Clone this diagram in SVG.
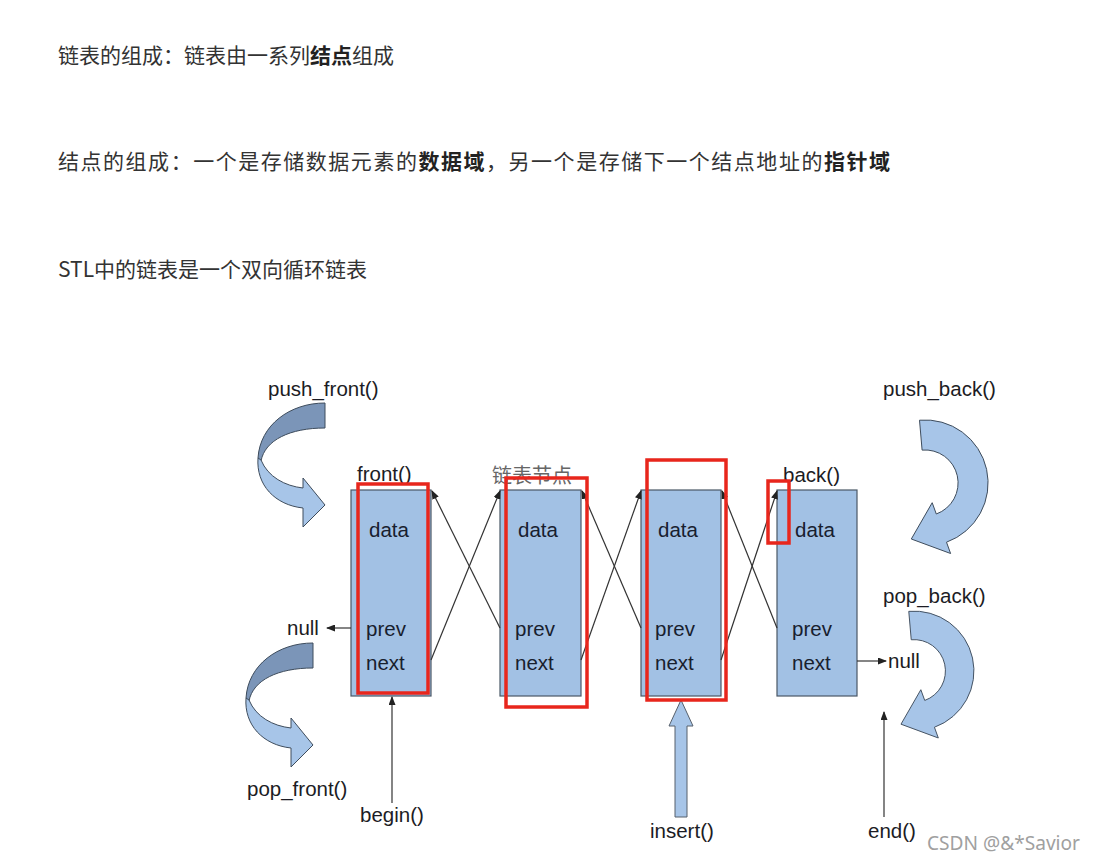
<svg xmlns="http://www.w3.org/2000/svg" width="1095" height="861" viewBox="0 0 1095 861">
<style>
.para{font-family:"Noto Sans CJK SC","Noto Sans",sans-serif;font-size:21px;fill:#333}
.b{font-weight:bold;fill:#222}
.lbl{font-family:"Liberation Sans",Arial,sans-serif;font-size:20.5px;fill:#1c1c24}
.fld{font-family:"Liberation Sans",Arial,sans-serif;font-size:20.5px;fill:#18202e}
.box{fill:#a2c1e4;stroke:#4a5866;stroke-width:1.2}
.red{fill:none;stroke:#e8261c;stroke-width:3.5}
.conn{stroke:#333;stroke-width:1.2;fill:none}
.dark{fill:#7b95b8;stroke:#3e4c5c;stroke-width:1}
.light{fill:#a7c5e8;stroke:#3e4c5c;stroke-width:1}
.wm{font-family:"Noto Sans","Noto Sans CJK SC",sans-serif;font-size:19px;fill:#a0a0a0}
</style>
<defs>
<marker id="ah" markerUnits="userSpaceOnUse" markerWidth="9" markerHeight="7" refX="8" refY="3.5" orient="auto">
<path d="M0,0 L9,3.5 L0,7 Z" fill="#222"/>
</marker>
<g id="frontArrow">
<path class="dark" d="M325,403 C290,403 260,425 258,458 L261,461 C265,440 290,428 325,428 Z"/>
<path class="light" d="M258,458 C256,485 275,505 303,508 L303,527 L325,505 L303,478 L303,488 C285,486 268,477 261,460 Z"/>
</g>
<path id="backArrow" class="light" d="M-5.5,-62.8 A63,63 0 0 1 21.5,59.2 L25.6,70.5 L-13.7,56 L7.2,19.7 L11.3,31 A33,33 0 0 0 -2.9,-32.9 Z"/>
</defs>
<rect width="1095" height="861" fill="#fff"/>
<text class="para" x="58" y="63">链表的组成：链表由一系列<tspan class="b">结点</tspan>组成</text>
<text class="para" x="58" y="169" textLength="832" lengthAdjust="spacing">结点的组成：一个是存储数据元素的<tspan class="b">数据域</tspan>，另一个是存储下一个结点地址的<tspan class="b">指针域</tspan></text>
<text class="para" x="58" y="277">STL中的链表是一个双向循环链表</text>

<g id="labels">
<text class="lbl" x="268" y="396">push_front()</text>
<text class="lbl" x="357" y="481">front()</text>
<text x="492" y="483" style="font-family:'Noto Sans CJK SC',sans-serif;font-size:20px;fill:#666">链表节点</text>
<text class="lbl" x="783" y="482">back()</text>
<text class="lbl" x="883" y="396">push_back()</text>
<text class="lbl" x="883" y="603">pop_back()</text>
<text class="lbl" x="247" y="796">pop_front()</text>
</g>

<g id="push_front"><use href="#frontArrow"/></g>
<g id="pop_front"><use href="#frontArrow" transform="translate(-12,240)"/></g>
<g id="push_back"><use href="#backArrow" transform="translate(925,483)"/></g>
<g id="pop_back"><use href="#backArrow" transform="translate(914,671) scale(0.95)"/></g>

<g id="node1">
<rect class="box" x="351" y="490" width="80" height="206"/>
<text class="fld" x="369" y="537">data</text>
<text class="fld" x="366" y="636">prev</text>
<text class="fld" x="366" y="670">next</text>
</g>
<g id="node2">
<rect class="box" x="500" y="490" width="81" height="206"/>
<text class="fld" x="518" y="537">data</text>
<text class="fld" x="515" y="636">prev</text>
<text class="fld" x="515" y="670">next</text>
</g>
<g id="node3">
<rect class="box" x="641" y="490" width="80" height="206"/>
<text class="fld" x="658" y="537">data</text>
<text class="fld" x="655" y="636">prev</text>
<text class="fld" x="655" y="670">next</text>
</g>
<g id="node4">
<rect class="box" x="777" y="490" width="80" height="206"/>
<text class="fld" x="795" y="537">data</text>
<text class="fld" x="792" y="636">prev</text>
<text class="fld" x="792" y="670">next</text>
</g>

<g id="connectors">
<line class="conn" x1="431" y1="660" x2="500" y2="491" marker-end="url(#ah)"/>
<line class="conn" x1="500" y1="628" x2="432" y2="491" marker-end="url(#ah)"/>
<line class="conn" x1="581" y1="660" x2="641" y2="491" marker-end="url(#ah)"/>
<line class="conn" x1="641" y1="628" x2="582" y2="491" marker-end="url(#ah)"/>
<line class="conn" x1="721" y1="660" x2="777" y2="491" marker-end="url(#ah)"/>
<line class="conn" x1="777" y1="628" x2="722" y2="491" marker-end="url(#ah)"/>
<line class="conn" x1="351" y1="628" x2="327" y2="628" marker-end="url(#ah)"/>
<line class="conn" x1="857" y1="661" x2="886" y2="661" marker-end="url(#ah)"/>
<line class="conn" x1="392" y1="803" x2="392" y2="697" marker-end="url(#ah)"/>
<line class="conn" x1="884" y1="817" x2="884" y2="712" marker-end="url(#ah)"/>
<path id="insertArrow" d="M675,817 L675,726 L669,726 L681,700 L693,726 L687,726 L687,817 Z" fill="#a7c5e8" stroke="#56606c" stroke-width="1"/>
</g>

<g id="endpoints">
<text class="lbl" x="287" y="635">null</text>
<text class="lbl" x="888" y="668">null</text>
<text class="lbl" x="360" y="822">begin()</text>
<text class="lbl" x="650" y="838">insert()</text>
<text class="lbl" x="868" y="838">end()</text>
</g>

<g id="highlights">
<rect class="red" x="358" y="484" width="70" height="209"/>
<rect class="red" x="506" y="478" width="81" height="229"/>
<rect class="red" x="647" y="460" width="79" height="240"/>
<rect class="red" x="768" y="481" width="21" height="62"/>
</g>

<text class="wm" x="927" y="850" textLength="153" lengthAdjust="spacingAndGlyphs">CSDN @&amp;*Savior</text>
</svg>
